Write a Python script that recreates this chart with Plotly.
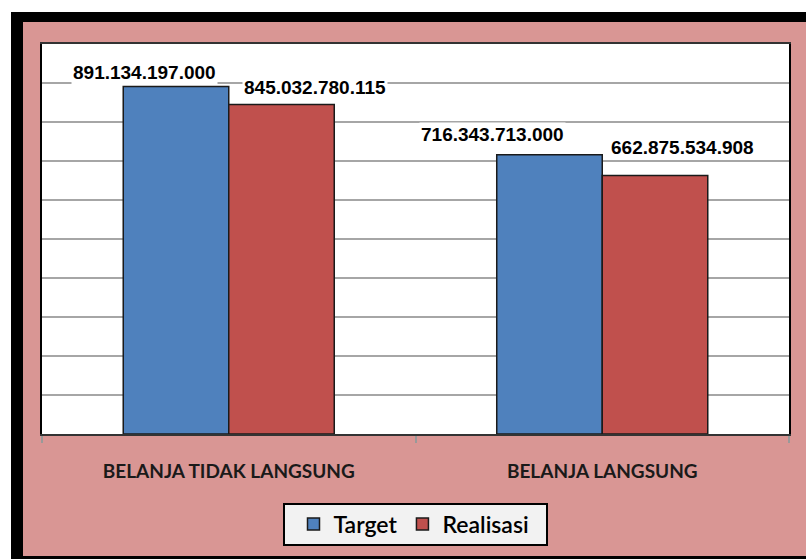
import plotly.graph_objects as go

# Chart data
categories = ["BELANJA TIDAK LANGSUNG", "BELANJA LANGSUNG"]
target = [891134197000, 716343713000]
realisasi = [845032780115, 662875534908]
series_names = ["Target", "Realisasi"]
series_values = [target, realisasi]

colors = ["#4F81BD", "#C0504D"]
# pixel offsets of the value labels relative to the category centre / bar top
label_xshift = [[-84, -110], [86, 80]]
label_yshift = [[1, 8], [4, 15]]

W, H = 806, 559
L, R, T, B = 42, 17, 44, 125
PW, PH = W - L - R, H - T - B


def px_x(p):
    return (p - L) / PW


def px_y(p):
    return (H - B - p) / PH


def fmt(v):
    return f"{v:,}".replace(",", ".")


fig = go.Figure()

for name, vals, col in zip(series_names, series_values, colors):
    fig.add_trace(
        go.Bar(
            x=categories,
            y=vals,
            name=name,
            marker=dict(color=col, line=dict(color="#1A1A1A", width=1.5)),
            hoverinfo="skip",
        )
    )

# Value labels with white boxes (they hide the gridlines behind them)
for s, (vals, col) in enumerate(zip(series_values, colors)):
    for c, (cat, v) in enumerate(zip(categories, vals)):
        fig.add_annotation(
            x=cat,
            y=v,
            text=fmt(v),
            showarrow=False,
            yanchor="bottom",
            xshift=label_xshift[s][c],
            yshift=label_yshift[s][c],
            bgcolor="white",
            font=dict(family="Liberation Sans", size=19, color="black", weight="bold"),
        )

# Frame: white strip, black border, pink chart area, white plot area, legend box
fig.add_shape(type="rect", xref="paper", yref="paper", layer="below",
              x0=px_x(11), x1=px_x(W + 5), y0=px_y(12), y1=px_y(H + 5),
              fillcolor="black", line=dict(width=0))
fig.add_shape(type="rect", xref="paper", yref="paper", layer="below",
              x0=px_x(23), x1=px_x(W + 5), y0=px_y(22), y1=px_y(556),
              fillcolor="#D99694", line=dict(width=0))
fig.add_shape(type="rect", xref="paper", yref="paper", layer="below",
              x0=0, x1=1, y0=0, y1=1,
              fillcolor="white", line=dict(width=0))
fig.add_shape(type="rect", xref="paper", yref="paper", layer="below",
              x0=px_x(284), x1=px_x(547), y0=px_y(545), y1=px_y(504),
              fillcolor="#F2F2F2", line=dict(color="black", width=2))

fig.update_xaxes(
    showline=True,
    linecolor="#333333",
    linewidth=2,
    mirror=True,
    ticks="outside",
    tickson="boundaries",
    ticklen=7,
    tickcolor="#999999",
    tickwidth=1.5,
    ticklabelstandoff=19,
    tickfont=dict(family="Lato", size=19, color="#1A1A1A", weight="bold"),
)
fig.update_yaxes(
    range=[0, 1e12],
    dtick=1e11,
    showticklabels=False,
    showgrid=True,
    gridcolor="#A6A6A6",
    gridwidth=1.5,
    showline=True,
    linecolor="black",
    linewidth=2,
    mirror=True,
    zeroline=False,
)

fig.update_layout(
    width=W,
    height=H,
    margin=dict(l=L, r=R, t=T, b=B),
    paper_bgcolor="white",
    plot_bgcolor="white",
    barmode="group",
    bargap=0.435,
    bargroupgap=0,
    showlegend=True,
    legend=dict(
        orientation="h",
        x=px_x(414),
        xanchor="center",
        y=px_y(524),
        yanchor="middle",
        bgcolor="rgba(0,0,0,0)",
        borderwidth=0,
        itemwidth=30,
        font=dict(family="Lato", size=23, color="black", weight=600),
    ),
)

# drop the default page margin so the figure sits at the window's corner
fig.write_html(
    "out.html",
    config={"displayModeBar": False},
    post_script="document.body.style.margin = '0';",
)
